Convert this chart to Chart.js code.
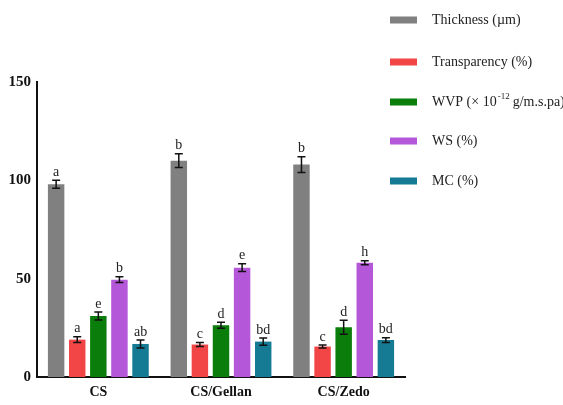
<!DOCTYPE html>
<html>
<head>
<meta charset="utf-8">
<script src="https://cdn.jsdelivr.net/npm/chart.js@4"></script>
<style>
  html, body { margin: 0; padding: 0; background: #fff; }
  #wrap { width: 563px; height: 405px; position: relative; }
</style>
</head>
<body>
<div id="wrap"><canvas id="myChart" width="563" height="405"></canvas></div>
<script>
// categories and values
const groups = ['CS', 'CS/Gellan', 'CS/Zedo'];
const seriesNames = ['Thickness (\u00b5m)', 'Transparency (%)', 'WVP', 'WS (%)', 'MC (%)'];
const seriesColors = ['#808080', '#f24545', '#0a7d0a', '#b457d8', '#157a94'];

const thickness = [98, 110, 108];
const transparency = [19, 16.5, 15.5];
const wvp = [31, 26.3, 25.3];
const ws = [49.5, 55.6, 58.1];
const mc = [16.8, 18, 18.8];

// error bar half-lengths
const thicknessErr = [2, 3.5, 4];
const transparencyErr = [1.5, 1, 0.8];
const wvpErr = [2, 1.5, 3.5];
const wsErr = [1.5, 2, 1];
const mcErr = [2, 1.8, 1.2];

// letters above the bars
const thicknessLbl = ['a', 'b', 'b'];
const transparencyLbl = ['a', 'c', 'c'];
const wvpLbl = ['e', 'd', 'd'];
const wsLbl = ['b', 'e', 'h'];
const mcLbl = ['ab', 'bd', 'bd'];

const yTicks = [0, 50, 100, 150];
const legendRows = [20, 62, 102, 141, 181]; // y of each legend row

const values = [thickness, transparency, wvp, ws, mc];
const errors = [thicknessErr, transparencyErr, wvpErr, wsErr, mcErr];
const letters = [thicknessLbl, transparencyLbl, wvpLbl, wsLbl, mcLbl];

const serif = '"Liberation Serif", "DejaVu Serif", serif';

// error bars + letters
const errorBarPlugin = {
  id: 'errorBars',
  afterDatasetsDraw(chart) {
    const ctx = chart.ctx;
    const y = chart.scales.y;
    ctx.save();
    chart.data.datasets.forEach((ds, i) => {
      const meta = chart.getDatasetMeta(i);
      meta.data.forEach((bar, j) => {
        const v = ds.data[j];
        const e = ds.err[j];
        const top = y.getPixelForValue(v + e);
        const bot = y.getPixelForValue(v - e);
        ctx.strokeStyle = '#111';
        ctx.lineWidth = 1.5;
        ctx.beginPath();
        ctx.moveTo(bar.x, top); ctx.lineTo(bar.x, bot);
        ctx.moveTo(bar.x - 4, top); ctx.lineTo(bar.x + 4, top);
        ctx.moveTo(bar.x - 4, bot); ctx.lineTo(bar.x + 4, bot);
        ctx.stroke();
        ctx.fillStyle = '#222';
        ctx.font = '14px ' + serif;
        ctx.textAlign = 'center';
        ctx.textBaseline = 'bottom';
        ctx.fillText(ds.letters[j], bar.x, top - 1);
      });
    });
    ctx.restore();
  }
};

// legend on the right, drawn by hand
const sideLegend = {
  id: 'sideLegend',
  afterDraw(chart) {
    const ctx = chart.ctx;
    ctx.save();
    ctx.font = '14px ' + serif;
    ctx.textBaseline = 'middle';
    ctx.textAlign = 'left';
    chart.data.datasets.forEach((ds, i) => {
      const yy = legendRows[i];
      ctx.fillStyle = ds.backgroundColor;
      ctx.fillRect(390, yy - 3.5, 27, 7);
      ctx.fillStyle = '#222';
      if (i === 2) {
        let x = 432;
        const t1 = 'WVP (\u00d7 10';
        ctx.fillText(t1, x, yy);
        x += ctx.measureText(t1).width;
        ctx.font = '9px ' + serif;
        ctx.fillText('-12', x + 1, yy - 5);
        x += ctx.measureText('-12').width + 4;
        ctx.font = '14px ' + serif;
        ctx.fillText('g/m.s.pa)', x, yy);
      } else {
        ctx.fillText(ds.label, 432, yy);
      }
    });
    ctx.restore();
  }
};

const ctx = document.getElementById('myChart').getContext('2d');
const barChart = new Chart(ctx, {
  type: 'bar',
  data: {
    labels: groups,
    datasets: values.map((vals, i) => ({
      label: seriesNames[i],
      data: vals,
      err: errors[i],
      letters: letters[i],
      backgroundColor: seriesColors[i],
      borderWidth: 0,
      categoryPercentage: 0.86,
      barPercentage: 0.78
    }))
  },
  options: {
    responsive: false,
    animation: false,
    layout: { padding: { top: 82, right: 158, left: 0, bottom: 0 } },
    plugins: {
      legend: { display: false },
      tooltip: { enabled: false }
    },
    scales: {
      x: {
        grid: { display: false, drawOnChartArea: false, drawTicks: true, tickLength: 3, tickColor: '#111', tickWidth: 1.5 },
        border: { color: '#111', width: 2 },
        ticks: { color: '#111', font: { family: serif, size: 14, weight: 'bold' }, padding: 4 },
        afterFit(scale) { scale.height = 28; }
      },
      y: {
        min: 0,
        max: 150,
        afterBuildTicks(scale) { scale.ticks = yTicks.map(v => ({ value: v })); },
        grid: { display: false, drawOnChartArea: false, drawTicks: true, tickLength: 4, tickColor: '#111', tickWidth: 1.5 },
        border: { color: '#111', width: 2 },
        ticks: { color: '#111', font: { family: serif, size: 15, weight: 'bold' }, padding: 2 },
        afterFit(scale) { scale.width = 37; }
      }
    }
  },
  plugins: [errorBarPlugin, sideLegend]
});
</script>
</body>
</html>
